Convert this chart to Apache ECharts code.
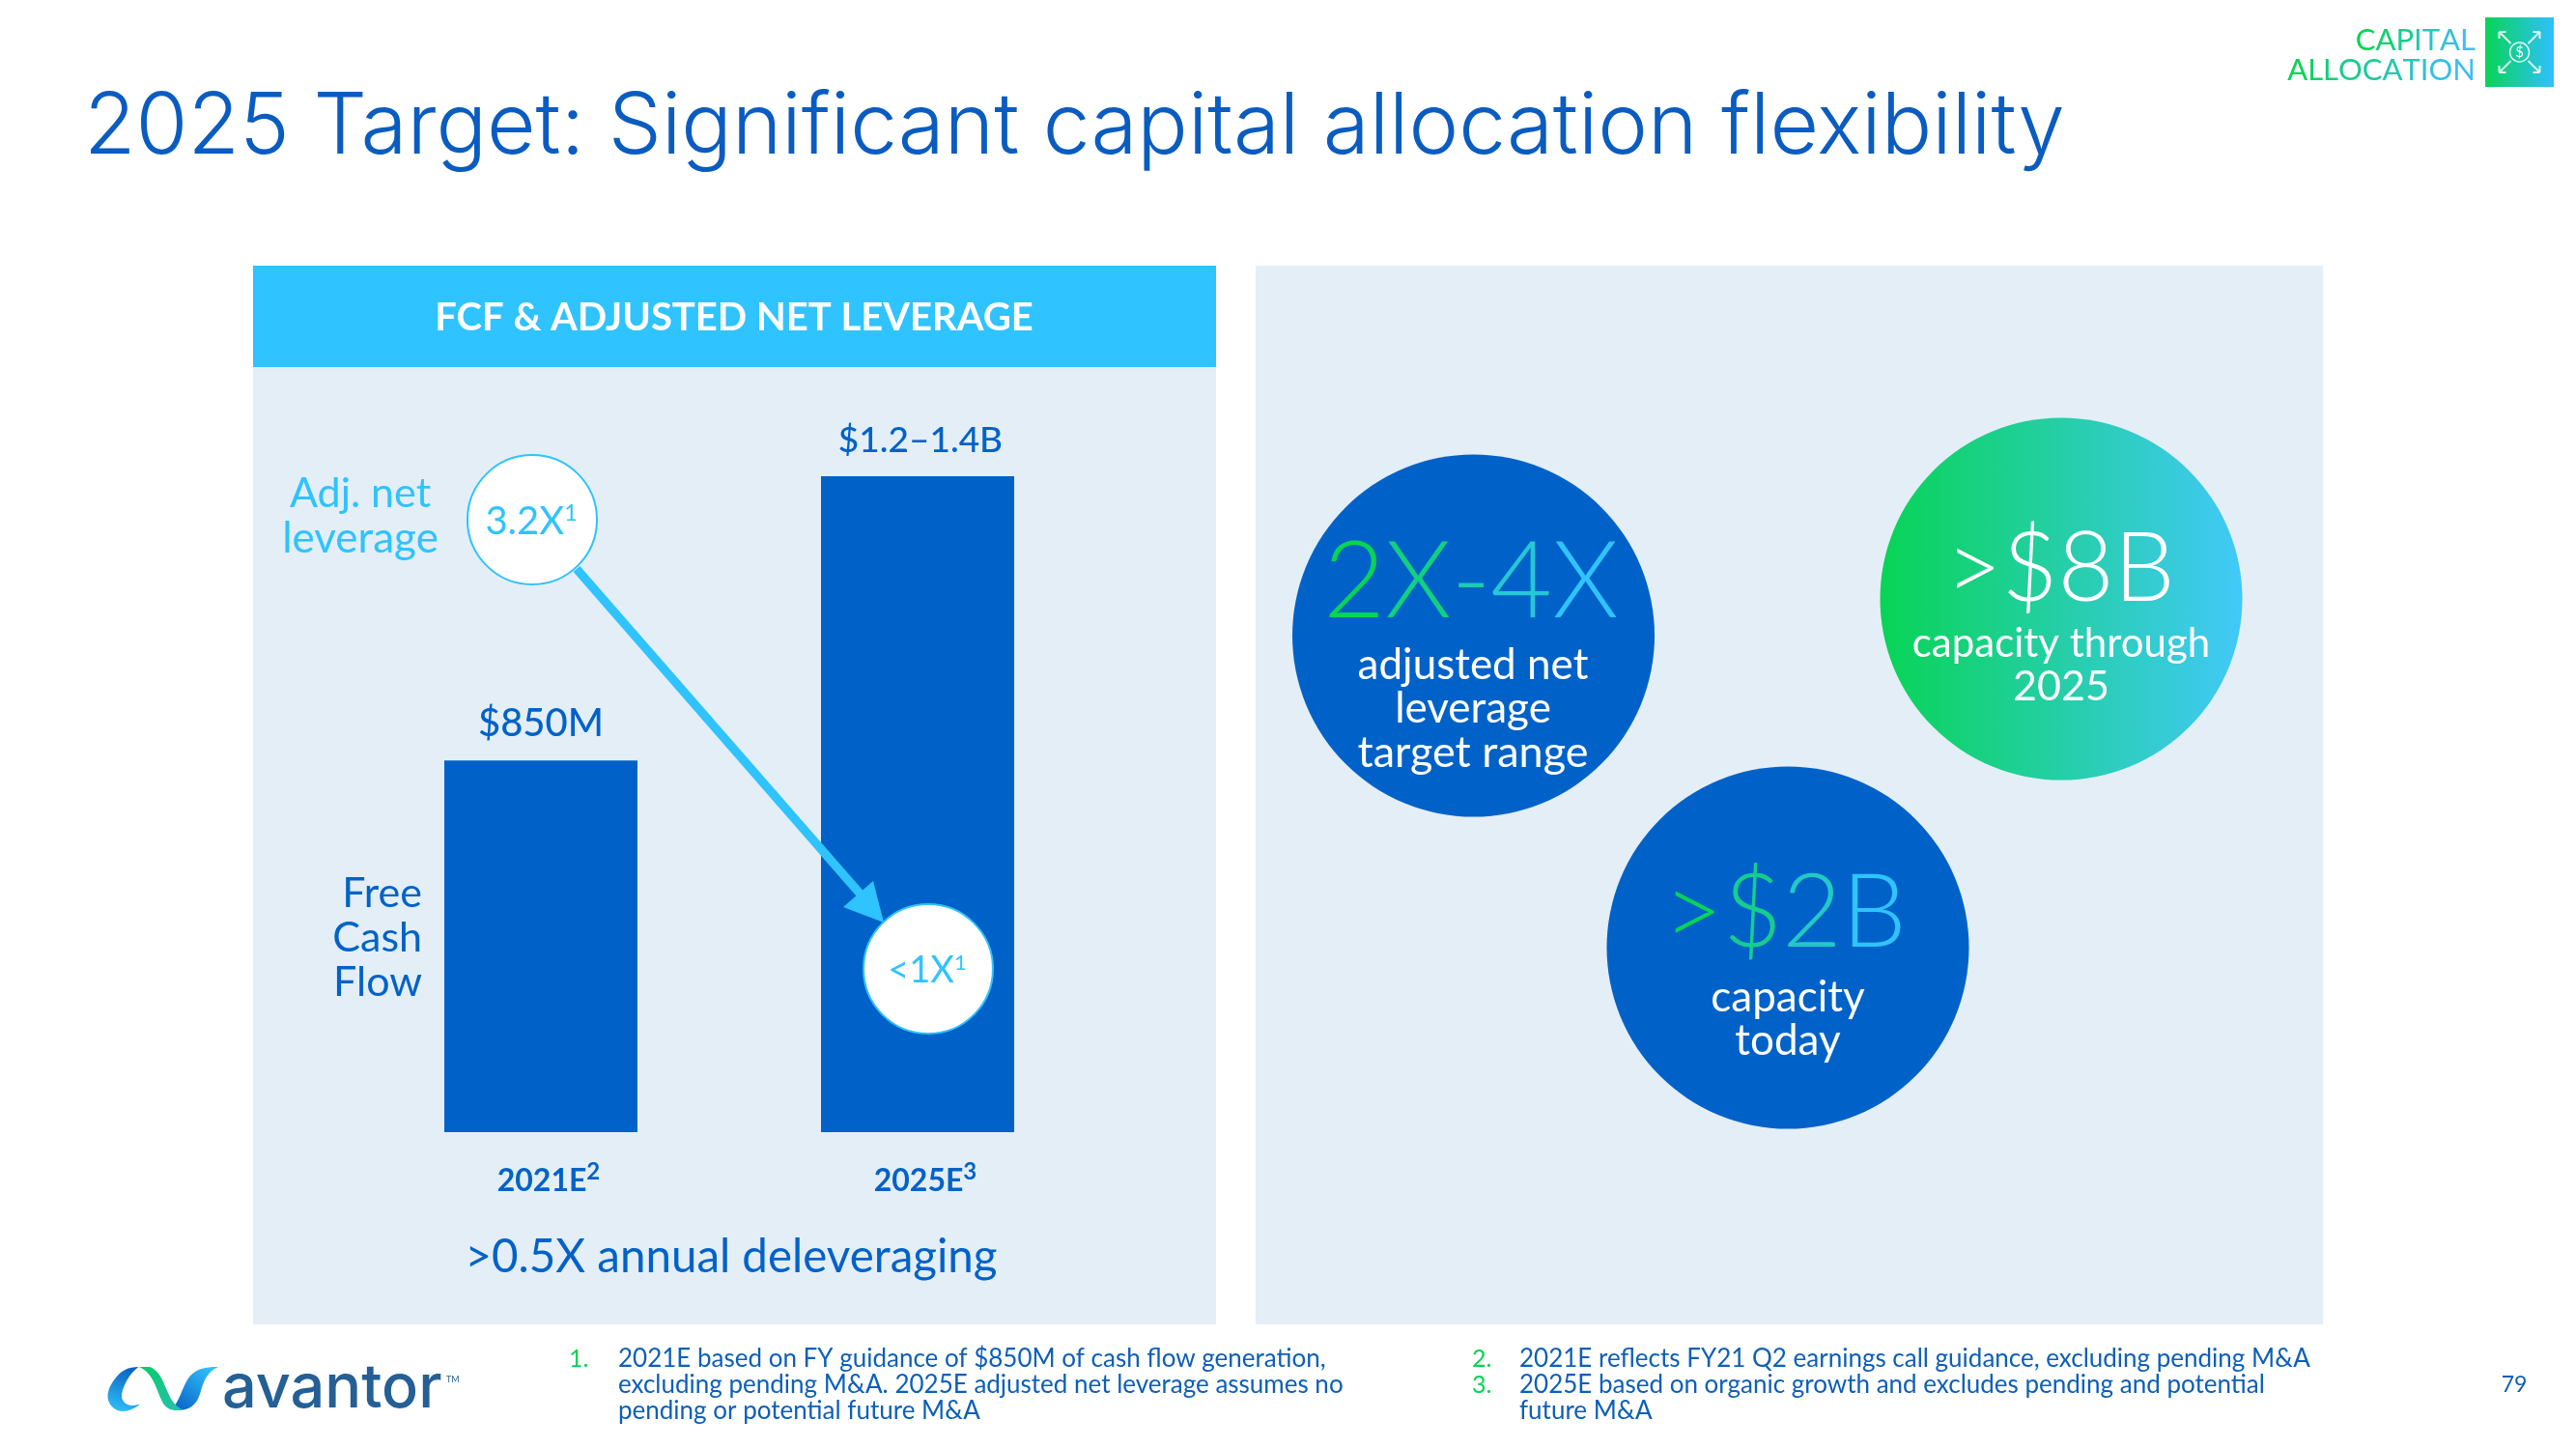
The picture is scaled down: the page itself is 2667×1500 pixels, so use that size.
<!DOCTYPE html>
<html><head><meta charset="utf-8">
<style>html,body{margin:0;padding:0;background:#fff}#c{width:2667px;height:1500px}</style>
<script src="https://cdn.jsdelivr.net/npm/echarts@6/dist/echarts.min.js"></script>
</head><body><div id="c"></div>
<script>
var categories = ['2021E', '2025E'];
var superscripts = ['2', '3'];
var freeCashFlow = [850, 1500];
var barLabels = ['$850M', '$1.2–1.4B'];
var leverageLabels = ['3.2X', '<1X'];

var FONT = 'Lato';
var DARK = '#0062c8', SKY = '#2fc3ff', TITLE = '#0a5cc0', PANEL = '#e3eef7', GREEN = '#08d455';

echarts.graphic.registerShape('logoLeft', echarts.graphic.extendShape({shape:{},buildPath:function(c){
  c.moveTo(135,160);c.bezierCurveTo(115,180,80,190,60,178);c.bezierCurveTo(30,160,25,125,55,85);
  c.bezierCurveTo(75,55,100,45,130,45);c.bezierCurveTo(105,65,85,95,78,130);c.bezierCurveTo(75,155,100,175,135,160);c.closePath();}}));
echarts.graphic.registerShape('logoMid', echarts.graphic.extendShape({shape:{},buildPath:function(c){
  c.moveTo(130,45);c.lineTo(165,45);c.bezierCurveTo(205,60,210,110,235,150);c.bezierCurveTo(245,165,255,172,268,178);
  c.bezierCurveTo(240,185,215,175,205,155);c.bezierCurveTo(185,115,175,60,130,45);c.closePath();}}));
echarts.graphic.registerShape('logoRight', echarts.graphic.extendShape({shape:{},buildPath:function(c){
  c.moveTo(232,175);c.bezierCurveTo(255,160,265,110,285,80);c.bezierCurveTo(305,52,335,45,378,45);
  c.bezierCurveTo(345,60,335,85,325,115);c.bezierCurveTo(315,160,290,190,232,175);c.closePath();}}));

function hex(c){return [1,3,5].map(function(i){return parseInt(c.substr(i,2),16);});}
function mix(a,b,t){var A=hex(a),B=hex(b);return 'rgb('+A.map(function(v,i){return Math.round(v+(B[i]-v)*t);}).join(',')+')';}
function gradRich(text,a,b,size,weight){
  var rich={},out='';
  text.split('').forEach(function(ch,i){
    var k='c'+i;
    rich[k]={fill:mix(a,b,text.length>1?i/(text.length-1):0),fontSize:size,fontWeight:weight,fontFamily:FONT};
    out+='{'+k+'|'+ch+'}';
  });
  return {text:out,rich:rich};
}
function T(x,y,text,size,fill,opt){
  opt=opt||{};
  return {type:'text',x:x,y:y,z:opt.z||20,style:Object.assign({text:text,fontSize:size,fill:fill,fontFamily:opt.font||FONT,
    fontWeight:opt.weight||400,align:opt.align||'center',verticalAlign:'middle'},opt.style||{})};
}
function GT(x,y,text,a,b,size,weight,align){
  var g=gradRich(text,a,b,size,weight);
  return {type:'text',x:x,y:y,z:20,style:{text:g.text,rich:g.rich,align:align||'center',verticalAlign:'middle',fontFamily:FONT,fontSize:size}};
}
function supText(x,y,main,size,fill,weight){
  return {type:'text',x:x,y:y,z:30,style:{text:'{m|'+main+'}{s|1}',align:'center',verticalAlign:'middle',
    rich:{m:{fontSize:size,fill:fill,fontFamily:FONT,fontWeight:weight},
          s:{fontSize:size*0.58,fill:fill,fontFamily:FONT,fontWeight:weight,verticalAlign:'top',padding:[0,0,size*0.35,0]}}}};
}
function circle(cx,cy,r,fill,stroke,lw,z){
  return {type:'circle',z:z||5,shape:{cx:cx,cy:cy,r:r},style:{fill:fill,stroke:stroke||null,lineWidth:lw||0}};
}
function grad(stops,x0,y0,x1,y1){
  return {type:'linear',x:x0||0,y:y0||0,x2:x1===undefined?1:x1,y2:y1||0,
    colorStops:stops.map(function(s,i){return {offset:i/(stops.length-1),color:s};})};
}
function arrowLine(x1,y1,x2,y2){
  return {type:'line',z:30,shape:{x1:x1,y1:y1,x2:x2,y2:y2},style:{stroke:'#dff6f0',lineWidth:2}};
}

var g=[];
// panels
g.push({type:'rect',z:-10,shape:{x:262,y:275,width:997,height:1096},style:{fill:PANEL}});
g.push({type:'rect',z:-10,shape:{x:262,y:275,width:997,height:105},style:{fill:SKY}});
g.push({type:'rect',z:-10,shape:{x:1300,y:275,width:1105,height:1096},style:{fill:PANEL}});
// title
g.push(T(87,133,'2025 Target: Significant capital allocation flexibility',87.3,TITLE,{align:'left',weight:300,font:'Inter'}));
// top-right tag
g.push(GT(2563,42,'CAPITAL',GREEN,'#3dbdf5',31,400,'right'));
g.push(GT(2563,73,'ALLOCATION',GREEN,'#3dbdf5',31,400,'right'));
g.push({type:'rect',z:10,shape:{x:2573,y:18,width:71,height:72},style:{fill:grad([GREEN,'#2fc0ff'])}});
var icx=2608.5, icy=54;
g.push(circle(icx,icy,10,'none','#dff6f0',1.5,30));
g.push(T(icx,icy,'$',15,'#fff',{z:31}));
[[-1,-1],[1,-1],[-1,1],[1,1]].forEach(function(d){
  var a=[icx+d[0]*9,icy+d[1]*9], b=[icx+d[0]*21,icy+d[1]*21];
  g.push(arrowLine(a[0],a[1],b[0],b[1]));
  g.push(arrowLine(b[0],b[1],b[0]-d[0]*7,b[1]));
  g.push(arrowLine(b[0],b[1],b[0],b[1]-d[1]*7));
});
// panel header
g.push(T(760,329,'FCF & ADJUSTED NET LEVERAGE',40,'#fff',{weight:700}));
// left labels
g.push(T(373,511,'Adj. net',43,SKY));
g.push(T(373,558,'leverage',44,SKY));
g.push(T(437,925,'Free',43,DARK,{align:'right'}));
g.push(T(437,971,'Cash',43,DARK,{align:'right'}));
g.push(T(437,1017,'Flow',43,DARK,{align:'right'}));
g.push(T(757,1302,'>0.5X annual deleveraging',47.5,DARK));
// leverage arrow + bubbles
g.push({type:'line',z:15,shape:{x1:597,y1:589,x2:892,y2:927},style:{stroke:SKY,lineWidth:9}});
g.push({type:'polygon',z:15,shape:{points:[[915,955],[873,939],[904,912]]},style:{fill:SKY}});
g.push(circle(551,538,67,'#fff',SKY,2,16));
g.push(circle(961,1003,67,'#fff',SKY,2,16));
g.push(supText(550,540,leverageLabels[0],40,SKY,400));
g.push(supText(960,1005,leverageLabels[1],38,SKY,400));
// right bubbles
g.push(circle(1525.5,658,187.5,DARK));
g.push(circle(2134,620,187.5,grad([GREEN,'#42c9f9'])));
g.push(circle(1851,981,187.5,DARK));
g.push(GT(1523,604,'2X-4X',GREEN,'#2fc3ff',110,300));
g.push(T(1525,689,'adjusted net',44,'#fff'));
g.push(T(1525,734,'leverage',44,'#fff'));
g.push(T(1525,779,'target range',45,'#fff'));
g.push(T(2133,590,'>$8B',100,'#fff',{weight:300}));
g.push(T(2134,666,'capacity through',42,'#fff'));
g.push(T(2134,711,'2025',43,'#fff'));
g.push(GT(1848,946,'>$2B',GREEN,'#2fc3ff',106,300));
g.push(T(1851,1033,'capacity',44,'#fff'));
g.push(T(1851,1078,'today',44,'#fff'));
// logo
function logo(type,fill,z){return {type:type,z:z,x:100,y:1400,scaleX:1/3,scaleY:1/3,shape:{},style:{fill:fill}};}
g.push(logo('logoLeft',grad(['#0a62c0','#30c0f8'],0.6,0,0.2,1),10));
g.push(logo('logoRight',grad(['#30c0f8','#0a62c8'],0.8,0,0.1,1),11));
g.push(logo('logoMid',grad(['#08cc66','#28c0b0'],0,0,1,1),12));
g.push(T(230,1438,'avantor',63,'#245f95',{align:'left',weight:500,font:'Inter'}));
g.push(T(462,1428,'TM',9,'#245f95',{align:'left'}));
// footnotes
var fnColor='#0d5fb8';
[[589,1407,'1.',GREEN],[1524,1407,'2.',GREEN],[1524,1434,'3.',GREEN]].forEach(function(n){g.push(T(n[0],n[1],n[2],25,n[3],{align:'left'}));});
[[640,1407,'2021E based on FY guidance of $850M of cash flow generation,'],
 [640,1434,'excluding pending M&A. 2025E adjusted net leverage assumes no'],
 [640,1461,'pending or potential future M&A'],
 [1573,1407,'2021E reflects FY21 Q2 earnings call guidance, excluding pending M&A'],
 [1573,1434,'2025E based on organic growth and excludes pending and potential'],
 [1573,1461,'future M&A']].forEach(function(f){g.push(T(f[0],f[1],f[2],26,fnColor,{align:'left'}));});
g.push(T(2603,1434,'79',23,fnColor));

var chart=echarts.init(document.getElementById('c'),null,{renderer:'canvas'});
chart.setOption({
  animation:false,
  backgroundColor:'#fff',
  grid:{left:365,width:780,top:493,height:679,containLabel:false},
  xAxis:{type:'category',data:categories,axisLine:{show:false},axisTick:{show:false},
    axisLabel:{margin:29,interval:0,padding:[0,0,0,16],
      formatter:function(v,i){return '{m|'+v+'}{s|'+superscripts[i]+'}';},
      rich:{m:{fontFamily:FONT,fontSize:32,fontWeight:700,color:DARK},
            s:{fontFamily:FONT,fontSize:24,fontWeight:700,color:DARK,verticalAlign:'top',padding:[0,0,20,0]}}}},
  yAxis:{type:'value',min:0,max:1500,show:false,splitLine:{show:false}},
  series:[{type:'bar',barWidth:200,itemStyle:{color:DARK},z:2,
    data:freeCashFlow.map(function(v,i){
      return {value:v,label:i===1?{fontSize:37,offset:[3,0]}:{fontSize:40}};
    }),
    label:{show:true,position:'top',distance:18,fontFamily:FONT,fontWeight:500,color:DARK,
      formatter:function(p){return barLabels[p.dataIndex];}}}],
  graphic:{elements:g}
});
</script></body></html>
